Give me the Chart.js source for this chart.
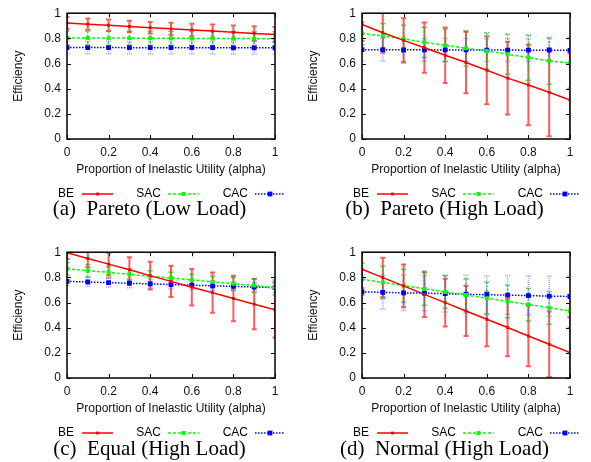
<!DOCTYPE html>
<html><head><meta charset="utf-8">
<script src="https://cdn.jsdelivr.net/npm/chart.js@4/dist/chart.umd.min.js"></script>
<style>
html,body{margin:0;padding:0;background:#fff;width:591px;height:462px;overflow:hidden;position:relative;}
.panel{position:absolute;width:295px;height:200px;}
.panel canvas{position:absolute;left:0;top:0;}
.cap{position:absolute;width:295px;text-align:center;font-family:"Liberation Serif","Times New Roman",serif;font-size:21px;line-height:21px;white-space:pre;color:#000;}
</style></head><body>
<div class="panel" style="left:0;top:0"><canvas id="ca" width="295" height="200"></canvas></div>
<div class="panel" style="left:295px;top:0"><canvas id="cb" width="295" height="200"></canvas></div>
<div class="panel" style="left:0;top:239px"><canvas id="cc" width="295" height="200"></canvas></div>
<div class="panel" style="left:295px;top:239px"><canvas id="cd" width="295" height="200"></canvas></div>
<div class="cap" id="capA" style="left:2px;top:198px"></div>
<div class="cap" id="capB" style="left:297px;top:198px"></div>
<div class="cap" id="capC" style="left:2px;top:438px"></div>
<div class="cap" id="capD" style="left:297px;top:438px"></div>
<script>
// ---------- data ----------
const alpha = [0, 0.1, 0.2, 0.3, 0.4, 0.5, 0.6, 0.7, 0.8, 0.9, 1.0];
const seriesNames = ['BE', 'SAC', 'CAC'];
const xTicks = [0, 0.2, 0.4, 0.6, 0.8, 1];
const yTicks = [0, 0.2, 0.4, 0.6, 0.8, 1];
const xTickLabels = ['0', '0.2', '0.4', '0.6', '0.8', '1'];
const yTickLabels = ['0', '0.2', '0.4', '0.6', '0.8', '1'];
const xTitle = 'Proportion of Inelastic Utility (alpha)';
const yTitle = 'Efficiency';
const captions = ['(a)  Pareto (Low Load)', '(b)  Pareto (High Load)', '(c)  Equal (High Load)', '(d)  Normal (High Load)'];

// (a) Pareto, low load
const paretoLowBE     = [0.922, 0.913, 0.904, 0.894, 0.885, 0.876, 0.867, 0.858, 0.848, 0.839, 0.830];
const paretoLowBEErr  = [0.045, 0.045, 0.045, 0.045, 0.046, 0.048, 0.050, 0.052, 0.055, 0.058, 0.060];
const paretoLowSAC    = [0.803, 0.803, 0.802, 0.802, 0.801, 0.800, 0.800, 0.799, 0.799, 0.798, 0.797];
const paretoLowSACErr = [0.055, 0.055, 0.055, 0.055, 0.055, 0.055, 0.055, 0.055, 0.055, 0.055, 0.055];
const paretoLowCAC    = [0.727, 0.727, 0.727, 0.726, 0.726, 0.726, 0.726, 0.726, 0.725, 0.725, 0.725];
const paretoLowCACErr = [0.050, 0.050, 0.050, 0.050, 0.050, 0.050, 0.050, 0.050, 0.050, 0.050, 0.050];

// (b) Pareto, high load
const paretoHighBE     = [0.910, 0.845, 0.784, 0.726, 0.666, 0.608, 0.547, 0.484, 0.429, 0.371, 0.310];
const paretoHighBEErr  = [0.130, 0.160, 0.175, 0.200, 0.220, 0.245, 0.270, 0.290, 0.320, 0.350, 0.370];
const paretoHighSAC    = [0.839, 0.818, 0.797, 0.768, 0.745, 0.721, 0.700, 0.674, 0.647, 0.621, 0.603];
const paretoHighSACErr = [0.090, 0.100, 0.110, 0.120, 0.130, 0.140, 0.145, 0.160, 0.180, 0.185, 0.200];
const paretoHighCAC    = [0.710, 0.710, 0.709, 0.709, 0.708, 0.708, 0.707, 0.707, 0.706, 0.706, 0.705];
const paretoHighCACErr = [0.090, 0.090, 0.090, 0.090, 0.090, 0.090, 0.090, 0.090, 0.090, 0.090, 0.090];

// (c) Equal, high load
const equalBE     = [0.995, 0.950, 0.905, 0.860, 0.814, 0.768, 0.722, 0.678, 0.632, 0.587, 0.542];
const equalBEErr  = [0.050, 0.070, 0.090, 0.100, 0.110, 0.125, 0.145, 0.160, 0.180, 0.200, 0.220];
const equalSAC    = [0.869, 0.853, 0.840, 0.824, 0.808, 0.795, 0.780, 0.764, 0.750, 0.735, 0.719];
const equalSACErr = [0.050, 0.050, 0.045, 0.045, 0.045, 0.045, 0.045, 0.045, 0.050, 0.055, 0.060];
const equalCAC    = [0.768, 0.763, 0.758, 0.753, 0.748, 0.743, 0.738, 0.733, 0.728, 0.723, 0.718];
const equalCACErr = [0.035, 0.035, 0.035, 0.035, 0.035, 0.035, 0.035, 0.035, 0.035, 0.035, 0.035];

// (d) Normal, high load
const normalBE     = [0.864, 0.798, 0.732, 0.665, 0.599, 0.533, 0.467, 0.401, 0.334, 0.268, 0.202];
const normalBEErr  = [0.150, 0.157, 0.170, 0.180, 0.190, 0.200, 0.215, 0.228, 0.240, 0.260, 0.280];
const normalSAC    = [0.785, 0.760, 0.735, 0.709, 0.684, 0.659, 0.634, 0.609, 0.584, 0.558, 0.533];
const normalSACErr = [0.130, 0.130, 0.130, 0.130, 0.130, 0.130, 0.130, 0.130, 0.130, 0.130, 0.130];
const normalCAC    = [0.685, 0.681, 0.677, 0.674, 0.670, 0.666, 0.662, 0.659, 0.655, 0.651, 0.648];
const normalCACErr = [0.135, 0.135, 0.140, 0.140, 0.145, 0.150, 0.150, 0.155, 0.155, 0.160, 0.160];

// ---------- styles ----------
const styles = [
  { color: '#ff0000', width: 1.5, dash: [], r: 2.0, errColor: 'rgba(255,0,0,0.65)', errWidth: 2, errDash: [] },
  { color: '#00ff00', width: 1.5, dash: [3, 2], r: 2.8, errColor: 'rgba(0,190,0,0.7)', errWidth: 1.5, errDash: [2, 1.5] },
  { color: '#0000ff', width: 1.5, dash: [1.5, 1.5], r: 3.4, errColor: 'rgba(60,60,255,0.5)', errWidth: 1.5, errDash: [1, 1] }
];

Chart.defaults.font.family = "'Liberation Sans', Arial, Helvetica, sans-serif";
Chart.defaults.font.size = 12;
Chart.defaults.color = '#111';

const errorBarPlugin = {
  id: 'errorBars',
  beforeDatasetsDraw(chart) {
    const ctx = chart.ctx, xs = chart.scales.x, ys = chart.scales.y, ca = chart.chartArea;
    ctx.save();
    ctx.beginPath();
    ctx.rect(ca.left, ca.top, ca.right - ca.left, ca.bottom - ca.top);
    ctx.clip();
    chart.data.datasets.forEach((ds) => {
      const st = ds._style;
      ctx.strokeStyle = st.errColor;
      ctx.lineWidth = st.errWidth;
      ctx.setLineDash(st.errDash);
      ds.data.forEach((p, i) => {
        const e = ds._err[i];
        const x = xs.getPixelForValue(p.x);
        const y1 = ys.getPixelForValue(p.y + e);
        const y2 = ys.getPixelForValue(p.y - e);
        ctx.beginPath();
        ctx.moveTo(x, y1); ctx.lineTo(x, y2);
        ctx.moveTo(x - 2.5, y1); ctx.lineTo(x + 2.5, y1);
        ctx.moveTo(x - 2.5, y2); ctx.lineTo(x + 2.5, y2);
        ctx.stroke();
      });
    });
    ctx.restore();
  }
};

const framePlugin = {
  id: 'frame',
  afterDraw(chart) {
    const ctx = chart.ctx, xs = chart.scales.x, ys = chart.scales.y, ca = chart.chartArea;
    ctx.save();
    ctx.strokeStyle = '#000';
    ctx.lineWidth = 1.5;
    ctx.setLineDash([]);
    ctx.strokeRect(ca.left, ca.top, ca.right - ca.left, ca.bottom - ca.top);
    ctx.lineWidth = 1;
    ctx.beginPath();
    xTicks.forEach(v => {
      const x = Math.round(xs.getPixelForValue(v)) + 0.5;
      ctx.moveTo(x, ca.bottom); ctx.lineTo(x, ca.bottom - 4);
      ctx.moveTo(x, ca.top); ctx.lineTo(x, ca.top + 4);
    });
    yTicks.forEach(v => {
      const y = Math.round(ys.getPixelForValue(v)) + 0.5;
      ctx.moveTo(ca.left, y); ctx.lineTo(ca.left + 4, y);
      ctx.moveTo(ca.right, y); ctx.lineTo(ca.right - 4, y);
    });
    ctx.stroke();
    ctx.restore();
  }
};

const legendPlugin = {
  id: 'gpLegend',
  afterDraw(chart) {
    const ctx = chart.ctx;
    const y = chart.chartArea.bottom + 55;
    const slots = [
      { tx: 74, x0: 82, x1: 113 },
      { tx: 161, x0: 168, x1: 199 },
      { tx: 248, x0: 255, x1: 285 }
    ];
    ctx.save();
    ctx.font = "12px 'Liberation Sans', Arial, sans-serif";
    ctx.textAlign = 'right';
    ctx.textBaseline = 'middle';
    chart.data.datasets.forEach((ds, i) => {
      const s = slots[i], st = ds._style;
      ctx.fillStyle = '#000';
      ctx.fillText(ds.label, s.tx, y);
      ctx.strokeStyle = st.color;
      ctx.lineWidth = st.width;
      ctx.setLineDash(st.dash);
      ctx.beginPath();
      ctx.moveTo(s.x0, y); ctx.lineTo(s.x1, y);
      ctx.stroke();
      const m = (s.x0 + s.x1) / 2, h = st.r * Math.SQRT1_2;
      ctx.fillStyle = st.color;
      ctx.fillRect(m - h, y - h, 2 * h, 2 * h);
    });
    ctx.restore();
  }
};

function makeChart(id, values, errs) {
  const datasets = seriesNames.map((name, k) => {
    const st = styles[k];
    return {
      label: name,
      data: alpha.map((a, i) => ({ x: a, y: values[k][i] })),
      _err: errs[k],
      _style: st,
      borderColor: st.color,
      borderWidth: st.width,
      borderDash: st.dash,
      backgroundColor: st.color,
      pointStyle: 'rect',
      pointRadius: st.r,
      pointBorderWidth: 0,
      pointBackgroundColor: st.color,
      fill: false,
      tension: 0
    };
  });
  return new Chart(document.getElementById(id), {
    type: 'line',
    data: { datasets },
    plugins: [errorBarPlugin, framePlugin, legendPlugin],
    options: {
      responsive: false,
      animation: false,
      devicePixelRatio: 1,
      layout: { padding: { left: 0, top: 12, right: 20, bottom: 20 } },
      plugins: { legend: { display: false }, tooltip: { enabled: false } },
      scales: {
        x: {
          type: 'linear', min: 0, max: 1,
          afterFit(s) { s.height = 41; },
          afterBuildTicks(s) { s.ticks = xTicks.map(v => ({ value: v })); },
          grid: { display: false, drawTicks: false, tickLength: 0 },
          border: { display: false },
          ticks: { padding: 6, color: '#111', font: { size: 12 }, callback: (v, i) => xTickLabels[i] },
          title: { display: true, text: xTitle, color: '#111', font: { size: 12 }, padding: { top: 0, bottom: 3 } }
        },
        y: {
          type: 'linear', min: 0, max: 1,
          afterFit(s) { s.width = 67; },
          afterBuildTicks(s) { s.ticks = yTicks.map(v => ({ value: v })); },
          grid: { display: false, drawTicks: false, tickLength: 0 },
          border: { display: false },
          ticks: { padding: 6, color: '#111', font: { size: 12 }, callback: (v, i) => yTickLabels[i] },
          title: { display: true, text: yTitle, color: '#111', font: { size: 12 }, padding: { top: 11, bottom: 0 } }
        }
      }
    }
  });
}

makeChart('ca', [paretoLowBE, paretoLowSAC, paretoLowCAC], [paretoLowBEErr, paretoLowSACErr, paretoLowCACErr]);
makeChart('cb', [paretoHighBE, paretoHighSAC, paretoHighCAC], [paretoHighBEErr, paretoHighSACErr, paretoHighCACErr]);
makeChart('cc', [equalBE, equalSAC, equalCAC], [equalBEErr, equalSACErr, equalCACErr]);
makeChart('cd', [normalBE, normalSAC, normalCAC], [normalBEErr, normalSACErr, normalCACErr]);

['capA', 'capB', 'capC', 'capD'].forEach((id, i) => { document.getElementById(id).textContent = captions[i]; });
</script>
</body></html>
